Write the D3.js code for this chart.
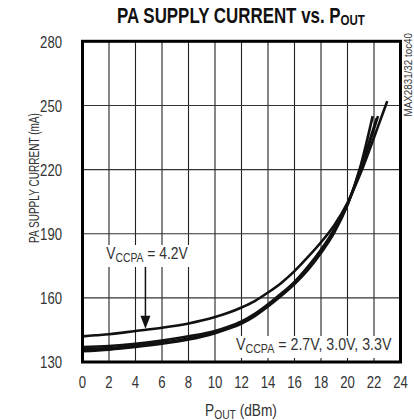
<!DOCTYPE html>
<html>
<head>
<meta charset="utf-8">
<script src="https://cdn.jsdelivr.net/npm/d3@7"></script>
<style>
  html, body { margin: 0; padding: 0; background: #fff; }
  svg { display: block; }
  text { font-family: "Liberation Sans", Arial, sans-serif; }
</style>
</head>
<body>
<svg id="chart" width="414" height="420"></svg>
<script>
// Output power (dBm) and PA supply current (mA), one pair of arrays per supply voltage
const pout42 = [0, 1, 2, 4, 6, 8, 10, 11, 12, 13, 14, 15, 16, 17, 18, 19, 20, 21, 22, 22.5, 23];
const icc42  = [142, 142.5, 143, 144.5, 146, 148, 151, 153, 155.5, 158.5, 162.5, 167, 172.5, 179, 186, 194, 204.5, 218.5, 235, 243.5, 252];

const pout33 = [0, 2, 4, 6, 8, 10, 11, 12, 13, 14, 15, 16, 17, 18, 19, 20, 21, 22, 22.3];
const icc33  = [137, 137.5, 138.5, 140, 142, 144.5, 146.5, 149, 152.5, 157, 162, 167.5, 174.5, 182.5, 192, 204, 220, 239, 245];

const pout30 = [0, 2, 4, 6, 8, 10, 11, 12, 13, 14, 15, 16, 17, 18, 19, 20, 21, 22.2];
const icc30  = [136, 136.5, 137.7, 139, 141, 143.8, 146, 148.5, 152, 156.5, 161.5, 167, 174, 182, 191.5, 203.5, 221, 244];

const pout27 = [0, 2, 4, 6, 8, 10, 11, 12, 13, 14, 15, 16, 17, 18, 19, 20, 21, 21.9];
const icc27  = [135, 135.8, 137, 138.5, 140.5, 143.5, 145.5, 148, 151.5, 156, 161, 166.5, 173, 181, 190.5, 203.5, 222, 245];

// Axis ticks
const xTicks = [0, 2, 4, 6, 8, 10, 12, 14, 16, 18, 20, 22, 24];
const yTicks = [130, 160, 190, 220, 250, 280];

// Annotation anchor: arrow points at the 4.2V curve at this output power
const arrowPout = 4.75;

const svg = d3.select("#chart");

const x = d3.scaleLinear().domain([0, 24]).range([82.5, 400.5]);
const y = d3.scaleLinear().domain([130, 280]).range([362, 41.3]);

// Squeeze a text element horizontally around cx so that it spans `width` px
function fit(sel, cx, width) {
  const w = sel.node().getBBox().width;
  const k = width / w;
  sel.attr("transform", `translate(${cx},0) scale(${k},1) translate(${-cx},0)`);
  return sel;
}
const NARROW = 0.82;

// Grid
const grid = svg.append("g");
grid.selectAll("line.v").data(xTicks.slice(1, -1)).join("line")
  .attr("x1", d => x(d)).attr("x2", d => x(d))
  .attr("y1", y(280)).attr("y2", y(130))
  .attr("stroke", "#222").attr("stroke-width", 1.1);
grid.selectAll("line.h").data(yTicks.slice(1, -1)).join("line")
  .attr("x1", x(0)).attr("x2", x(24))
  .attr("y1", d => y(d)).attr("y2", d => y(d))
  .attr("stroke", "#333").attr("stroke-width", 1.1);

// Curves
const line = d3.line()
  .x(d => x(d[0])).y(d => y(d[1]))
  .curve(d3.curveMonotoneX);
const series = [
  [pout27, icc27],
  [pout30, icc30],
  [pout33, icc33],
  [pout42, icc42]
];
svg.append("g").selectAll("path").data(series).join("path")
  .attr("d", s => line(s[0].map((p, i) => [p, s[1][i]])))
  .attr("fill", "none").attr("stroke", "#111")
  .attr("stroke-width", 2.6).attr("stroke-linejoin", "round");

// Frame
svg.append("rect")
  .attr("x", x(0)).attr("y", y(280))
  .attr("width", x(24) - x(0)).attr("height", y(130) - y(280))
  .attr("fill", "none").attr("stroke", "#000").attr("stroke-width", 3);

// Tick labels
svg.append("g").selectAll("text").data(xTicks).join("text")
  .attr("x", d => x(d)).attr("y", 388)
  .attr("text-anchor", "middle").attr("font-size", 16).attr("fill", "#333")
  .attr("transform", d => `translate(${x(d)},0) scale(${NARROW},1) translate(${-x(d)},0)`)
  .text(d => d);
svg.append("g").selectAll("text").data(yTicks).join("text")
  .attr("x", 62).attr("y", d => y(d) + 6.5)
  .attr("text-anchor", "end").attr("font-size", 16).attr("fill", "#333")
  .attr("transform", `translate(62,0) scale(${NARROW},1) translate(-62,0)`)
  .text(d => d);

// Title
const title = svg.append("text")
  .attr("x", 241).attr("y", 23).attr("text-anchor", "middle")
  .attr("font-size", 22).attr("font-weight", "bold").attr("fill", "#111");
title.append("tspan").text("PA SUPPLY CURRENT vs. P");
title.append("tspan").attr("font-size", 15).attr("dy", 2).text("OUT");
fit(title, 241, 248);

// Axis titles
const xt = svg.append("text")
  .attr("x", 241).attr("y", 416).attr("text-anchor", "middle")
  .attr("font-size", 16).attr("fill", "#333");
xt.append("tspan").text("P");
xt.append("tspan").attr("font-size", 12).attr("dy", 3).text("OUT");
xt.append("tspan").attr("dy", -3).text(" (dBm)");
fit(xt, 241, 72);

const yt = svg.append("text")
  .attr("x", 0).attr("y", 0)
  .attr("text-anchor", "middle").attr("font-size", 15.5).attr("fill", "#333")
  .text("PA SUPPLY CURRENT (mA)");
const ytw = yt.node().getBBox().width;
yt.attr("transform", `translate(38.5,178) rotate(-90) scale(${130 / ytw},1)`);

// Side reference code
const side = svg.append("text")
  .attr("x", 0).attr("y", 0)
  .attr("text-anchor", "end").attr("font-size", 10).attr("fill", "#333")
  .text("MAX2831/32 toc40");
const sw = side.node().getBBox().width;
side.attr("transform", `translate(411.5,33) rotate(-90) scale(${84 / sw},1)`);

// Annotations with white backing boxes
function vccLabel(cx, baseline, value, width) {
  const g = svg.append("g");
  const t = g.append("text")
    .attr("x", cx).attr("y", baseline).attr("text-anchor", "middle")
    .attr("font-size", 16).attr("fill", "#333");
  t.append("tspan").text("V");
  t.append("tspan").attr("font-size", 12).attr("dy", 3).text("CCPA");
  t.append("tspan").attr("dy", -3).text(" = " + value);
  const b = t.node().getBBox();
  g.insert("rect", "text")
    .attr("x", cx - width / 2 - 3).attr("y", b.y)
    .attr("width", width + 6).attr("height", b.height + 2)
    .attr("fill", "#fff");
  fit(t, cx, width);
}
vccLabel(147, 259, "4.2V", 82);
vccLabel(313.7, 350, "2.7V, 3.0V, 3.3V", 156);

// Arrow to the 4.2V curve
const tipY = y(d3.scaleLinear().domain(pout42).range(icc42)(arrowPout)) - 1;
const ax = x(arrowPout);
svg.append("line")
  .attr("x1", ax).attr("x2", ax).attr("y1", 267).attr("y2", tipY - 12)
  .attr("stroke", "#111").attr("stroke-width", 1.5);
svg.append("path")
  .attr("d", `M${ax - 5},${tipY - 13} L${ax + 5},${tipY - 13} L${ax},${tipY} Z`)
  .attr("fill", "#111");
</script>
</body>
</html>
